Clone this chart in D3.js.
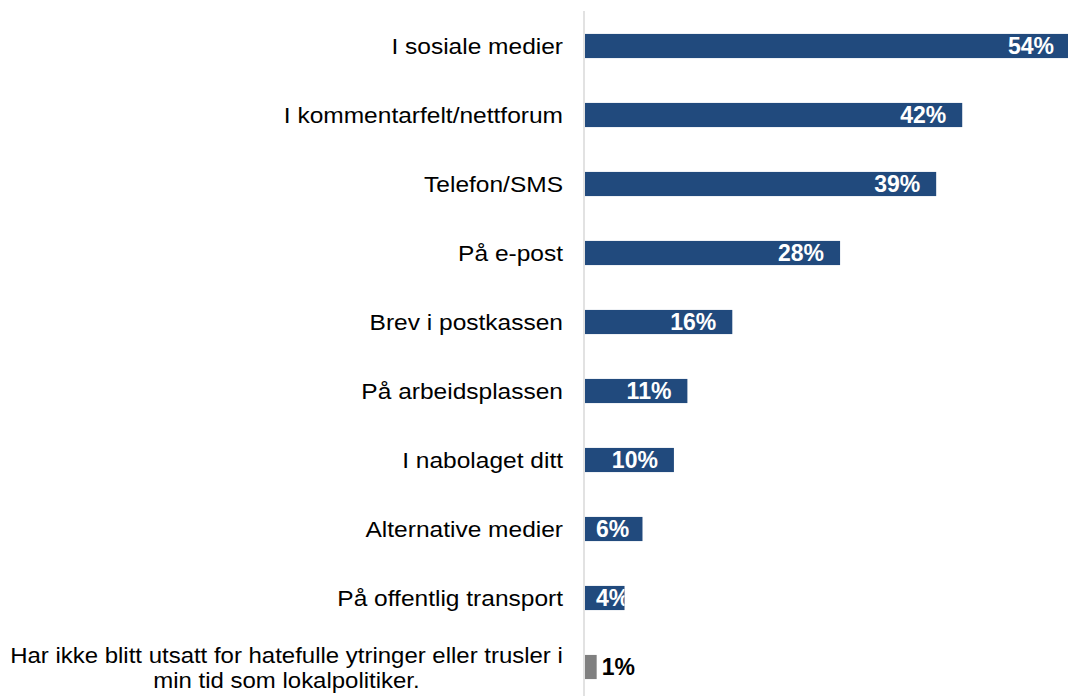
<!DOCTYPE html>
<html>
<head>
<meta charset="utf-8">
<script src="https://cdn.jsdelivr.net/npm/d3@7"></script>
<style>
  html, body { margin: 0; padding: 0; background: #fff; }
  text { font-family: "Liberation Sans", Arial, sans-serif; }
</style>
</head>
<body>
<svg id="chart"></svg>
<script>
const categories = [
    "I sosiale medier",
    "I kommentarfelt/nettforum",
    "Telefon/SMS",
    "På e-post",
    "Brev i postkassen",
    "På arbeidsplassen",
    "I nabolaget ditt",
    "Alternative medier",
    "På offentlig transport",
    "Har ikke blitt utsatt for hatefulle ytringer eller trusler i min tid som lokalpolitiker."
];
const values = [54.0, 42.0, 39.1, 28.4, 16.4, 11.4, 9.9, 6.4, 4.4, 1.3];
const groups = ["ja", "ja", "ja", "ja", "ja", "ja", "ja", "ja", "ja", "nei"];

const width = 1068;
const height = 696;
const x0 = 585;

const data = categories.map((c, i) => ({ cat: c, value: values[i], group: groups[i] }));

const svg = d3.select("#chart")
    .attr("width", width)
    .attr("height", height);

const x = d3.scaleLinear()
    .domain([0, 54])
    .range([x0, 1070]);

const y = d3.scaleBand()
    .domain(categories)
    .range([11.5, 701.5])
    .paddingInner(0.65)
    .paddingOuter(0.325);

const color = d3.scaleOrdinal()
    .domain(["ja", "nei"])
    .range(["#214a7d", "#808080"]);

const fmt = v => d3.format(".0f")(v) + "%";

svg.append("clipPath").attr("id", "plot")
    .append("rect").attr("x", 0).attr("y", 0).attr("width", width).attr("height", height);

const bars = svg.append("g").attr("clip-path", "url(#plot)");

bars.selectAll("rect")
    .data(data)
    .enter()
    .append("rect")
    .attr("x", x(0))
    .attr("y", d => y(d.cat))
    .attr("width", d => x(d.value) - x(0))
    .attr("height", y.bandwidth())
    .attr("fill", d => color(d.group));

// axis line
svg.append("line")
    .attr("x1", 584).attr("x2", 584)
    .attr("y1", 11).attr("y2", height)
    .attr("stroke", "#d9d9d9")
    .attr("stroke-width", 1.5);

// value labels
const inside = data.filter(d => d.group === "ja");
const outside = data.filter(d => d.group !== "ja");

const valLabels = svg.append("g");

// white labels are only visible on the bar itself
svg.append("clipPath").attr("id", "barclip")
    .selectAll("rect")
    .data(inside)
    .enter()
    .append("rect")
    .attr("x", x(0))
    .attr("y", d => y(d.cat))
    .attr("width", d => Math.min(x(d.value), width) - x(0))
    .attr("height", y.bandwidth());

valLabels.append("g")
    .attr("clip-path", "url(#barclip)")
    .selectAll("text")
    .data(inside)
    .enter()
    .append("text")
    .attr("y", d => y(d.cat) + y.bandwidth() / 2)
    .attr("dy", "0.36em")
    .attr("fill", "#fff")
    .attr("font-size", "23px")
    .attr("font-weight", "bold")
    .attr("text-anchor", "end")
    .text(d => fmt(d.value))
    .attr("x", function (d) {
        const w = this.getComputedTextLength();
        const end = Math.min(x(d.value), width + 2) - 16;
        return Math.max(end, x(0) + 11 + w);
    });

valLabels.selectAll("text.out")
    .data(outside)
    .enter()
    .append("text")
    .attr("class", "out")
    .attr("x", d => x(d.value) + 5)
    .attr("y", d => y(d.cat) + y.bandwidth() / 2)
    .attr("dy", "0.36em")
    .attr("fill", "#000")
    .attr("font-size", "23px")
    .attr("font-weight", "bold")
    .text(d => fmt(d.value));

// category labels, wrapped when too long (slightly stretched like the original)
const stretch = 1.09;
const maxW = 575 / stretch;
const lineH = 25;
const right = 563;
const room = 553;
const catG = svg.append("g");

data.forEach(d => {
    const cy = y(d.cat) + y.bandwidth() / 2;
    const t = catG.append("text")
        .attr("font-size", "22.5px")
        .attr("fill", "#000");
    const words = d.cat.split(" ");
    const lines = [];
    let cur = [];
    const probe = t.append("tspan");
    words.forEach(w => {
        const test = cur.concat([w]).join(" ");
        probe.text(test);
        if (probe.node().getComputedTextLength() > maxW && cur.length) {
            lines.push(cur.join(" "));
            cur = [w];
        } else {
            cur.push(w);
        }
    });
    lines.push(cur.join(" "));
    probe.remove();

    let sx = stretch;
    if (lines.length === 1) {
        t.attr("text-anchor", "end")
            .append("tspan")
            .attr("x", 0)
            .attr("y", 0)
            .attr("dy", "0.36em")
            .text(lines[0]);
    } else {
        const spans = lines.map((l, i) => t.append("tspan")
            .attr("y", (i - (lines.length - 1) / 2) * lineH)
            .attr("dy", "0.36em")
            .text(l));
        const wMax = d3.max(spans, s => s.node().getComputedTextLength());
        sx = Math.min(stretch, room / wMax);
        t.attr("text-anchor", "middle");
        spans.forEach(s => s.attr("x", -wMax / 2));
    }
    t.attr("transform", `translate(${right},${cy}) scale(${sx},1)`);
});
</script>
</body>
</html>
